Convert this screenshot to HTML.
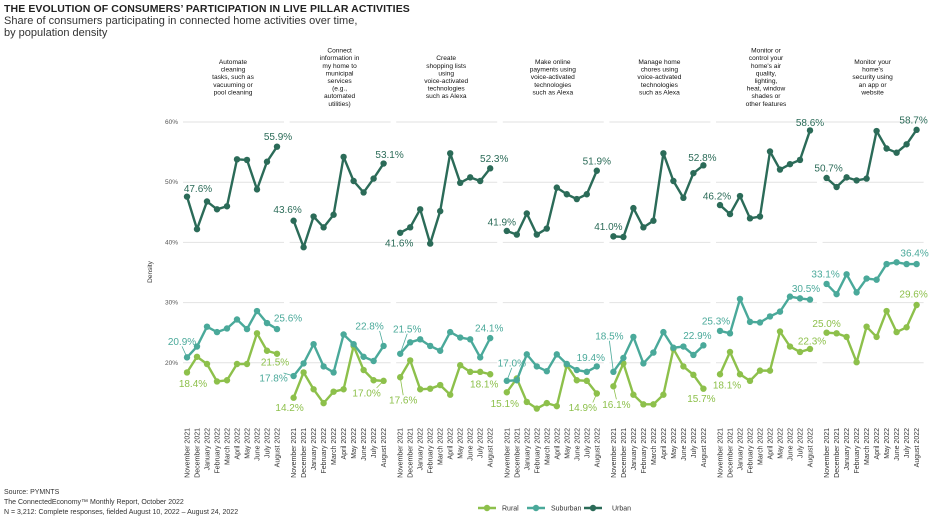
<!DOCTYPE html>
<html><head><meta charset="utf-8">
<style>
body{margin:0;background:#fff;width:936px;height:526px;overflow:hidden;font-family:"Liberation Sans",sans-serif}
#t{position:absolute;left:4px;top:3px;font-weight:bold;font-size:10.5px;color:#222;letter-spacing:0.1px}
#s{position:absolute;left:4px;top:15px;font-size:11px;line-height:12px;color:#333}
.f{position:absolute;left:4px;font-size:7px;color:#333}
</style></head><body>
<div id="t">THE EVOLUTION OF CONSUMERS’ PARTICIPATION IN LIVE PILLAR ACTIVITIES</div>
<div id="s">Share of consumers participating in connected home activities over time,<br>by population density</div>
<div class="f" style="top:489px">Source: PYMNTS</div>
<div class="f" style="top:499px">The ConnectedEconomy™ Monthly Report, October 2022</div>
<div class="f" style="top:509px">N = 3,212: Complete responses, fielded August 10, 2022 – August 24, 2022</div>
<svg id="c" width="936" height="526" style="position:absolute;left:0;top:0"></svg>
<script>
const months=["November 2021","December 2021","January 2022","February 2022","March 2022","April 2022","May 2022","June 2022","July 2022","August 2022"];
const panelTitles=[
["Automate","cleaning","tasks, such as","vacuuming or","pool cleaning"],
["Connect","information in","my home to","municipal","services","(e.g.,","automated","utilities)"],
["Create","shopping lists","using","voice-activated","technologies","such as Alexa"],
["Make online","payments using","voice-activated","technologies","such as Alexa"],
["Manage home","chores using","voice-activated","technologies","such as Alexa"],
["Monitor or","control your","home's air","quality,","lighting,","heat, window","shades or","other features"],
["Monitor your","home's","security using","an app or","website"]];
const urban=[
[47.6,42.2,46.8,45.5,46.0,53.8,53.7,48.8,53.4,55.9],
[43.6,39.2,44.3,42.5,44.6,54.2,50.2,48.3,50.6,53.1],
[41.6,42.5,45.5,39.8,45.2,54.8,49.9,50.8,50.2,52.3],
[41.9,41.3,44.8,41.3,42.3,49.1,48.0,47.2,48.0,51.9],
[41.0,40.9,45.7,42.5,43.6,54.8,50.2,47.4,51.5,52.8],
[46.2,44.7,47.7,44.0,44.3,55.1,52.1,53.0,53.7,58.6],
[50.7,49.2,50.8,50.3,50.6,58.5,55.6,54.9,56.3,58.7]];
const suburban=[
[20.9,22.7,26.0,25.1,25.7,27.2,25.6,28.6,26.6,25.6],
[17.8,19.9,23.1,19.4,18.4,24.7,23.1,21.0,20.3,22.8],
[21.5,23.4,23.9,22.8,22.0,25.1,24.2,23.9,20.9,24.1],
[17.0,17.1,21.4,19.4,18.6,21.4,19.8,18.8,18.5,19.4],
[18.5,20.8,24.3,19.9,21.7,25.1,22.5,22.7,21.3,22.9],
[25.3,24.9,30.6,26.8,26.7,27.7,28.5,31.0,30.7,30.5],
[33.1,31.4,34.7,31.7,34.0,33.8,36.4,36.7,36.4,36.4]];
const rural=[
[18.4,21.0,19.8,16.9,17.1,19.8,19.8,24.9,22.0,21.5],
[14.2,18.4,15.6,13.3,15.2,15.6,22.8,18.8,17.1,17.0],
[17.6,20.4,15.6,15.7,16.3,14.7,19.6,18.5,18.5,18.1],
[15.1,17.4,13.5,12.4,13.3,12.8,19.6,17.1,17.0,14.9],
[16.1,19.9,14.7,13.1,13.1,14.7,22.3,19.4,18.0,15.7],
[18.1,21.8,18.1,17.0,18.7,18.7,25.2,22.7,21.8,22.3],
[25.0,24.9,24.3,20.1,26.0,24.3,28.6,25.1,25.9,29.6]];
const yTicks=[20,30,40,50,60];
// label offsets [first dx,dy,last dx,dy] (layout only)
const offU=[[11,-8,1,-10],[-6,-11,6,-9],[-1,10,4,-10],[-5,-9,0,-10],[-5,-10,-1,-8],[-3,-9,0,-8],[2,-10,-3,-10]];
const offS=[[-5,-16,11,-11],[-20,2,-14,-20],[7,-25,-1,-10],[5,-18,-6,-9],[-4,-36,-6,-10],[-4,-10,-4,-11],[-1,-10,-2,-11]];
const offR=[[6,11,-2,8],[-4,10,-17,12],[3,23,-6,10],[-2,11,-14,14],[3,18,-2,10],[7,11,2,-8],[0,-9,-3,-11]];
const svg=document.getElementById('c');const NS="http://www.w3.org/2000/svg";
function mk(t,a,p){const e=document.createElementNS(NS,t);for(const k in a)e.setAttribute(k,a[k]);(p||svg).appendChild(e);return e;}
const y=v=>122+(60-v)*6.02;
const px0=183,pw=106.6;
const x=(p,i)=>px0+p*pw+4+i*10;
// y axis
yTicks.forEach(v=>{const t=mk('text',{x:178,y:y(v)+2,'text-anchor':'end','font-size':6.5,fill:'#555'});t.textContent=v+'%';
});
const yt=mk('text',{x:0,y:0,transform:'translate(152,272) rotate(-90)','text-anchor':'middle','font-size':6.5,fill:'#333'});yt.textContent='Density';

const series=[["rural",rural,"#8dc04b",offR],["suburban",suburban,"#4aa99a",offS],["urban",urban,"#2b6b58",offU]];
for(let p=0;p<7;p++){
 const g=mk('g',{});
 yTicks.forEach(v=>{const l=mk('line',{x1:px0+p*pw,x2:px0+p*pw+101,y1:y(v),y2:y(v),stroke:'#e2e2e2','stroke-width':1},g);
  });
 const L=panelTitles[p];const top=77-L.length*7.6/2;
 L.forEach((s,i)=>{const t=mk('text',{x:px0+p*pw+50,y:top+i*7.6+6,'text-anchor':'middle','font-size':6.6,fill:'#111'},g);t.textContent=s;
  });
 months.forEach((m,i)=>{const t=mk('text',{x:0,y:0,transform:`translate(${x(p,i)+2.5},428) rotate(-90)`,'text-anchor':'end','font-size':7,fill:'#333'},g);t.textContent=m;
  });
 series.forEach(([nm,arr,col,off])=>{
  const d=arr[p];
  const pl=mk('polyline',{points:d.map((v,i)=>x(p,i)+','+y(v)).join(' '),fill:'none',stroke:col,'stroke-width':2.4,'stroke-linejoin':'round'},g);
  
  d.forEach((v,i)=>{const c=mk('circle',{cx:x(p,i),cy:y(v),r:3.2,fill:col},g);
   });
  [[0,0],[9,2]].forEach(([i,k])=>{const o=off[p];const tx=x(p,i)+o[k],ty=y(d[i])+o[k+1];
   const t=mk('text',{x:tx,y:ty+3.5,'text-anchor':'middle','font-size':10,fill:col},g);t.textContent=d[i].toFixed(1)+'%';
   
   if(Math.abs(o[k+1])>14||Math.abs(o[k])>12){const l=mk('line',{x1:x(p,i),y1:y(d[i]),x2:tx+(o[k]<-12?10:0),y2:ty+(o[k+1]<0?5:-5),stroke:col,'stroke-width':0.8},g);
    }
  });
 });
}
// legend
[["Rural","#8dc04b",478,502],["Suburban","#4aa99a",527,551],["Urban","#2b6b58",584,612]].forEach(([n,c,lx,tx])=>{
 const g=mk('g',{});
 mk('line',{x1:lx,x2:lx+18,y1:508,y2:508,stroke:c,'stroke-width':2.4},g);
 mk('circle',{cx:lx+9,cy:508,r:3.2,fill:c},g);
 const t=mk('text',{x:tx,y:510.5,'font-size':7,fill:'#333'},g);t.textContent=n;
});
</script>
</body></html>
